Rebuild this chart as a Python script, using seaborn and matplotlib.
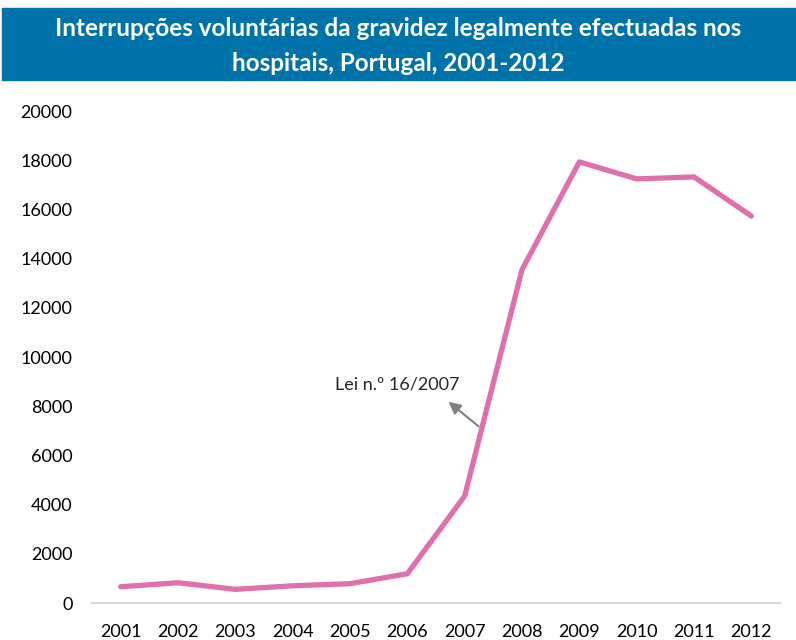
import numpy as np
import pandas as pd
import matplotlib
matplotlib.use("Agg")
import matplotlib.pyplot as plt
import seaborn as sns
from matplotlib.patches import Rectangle

# Data
years = [2001, 2002, 2003, 2004, 2005, 2006, 2007, 2008, 2009, 2010, 2011, 2012]
ivg = [660, 825, 555, 700, 785, 1190, 4350, 13550, 17930, 17240, 17320, 15730]
title = "Interrupções voluntárias da gravidez legalmente efectuadas nos\nhospitais, Portugal, 2001-2012"
note = "Lei n.º 16/2007"

df = pd.DataFrame({"ano": years, "ivg": ivg})

sns.set_theme(style="white")
plt.rcParams['font.family'] = ['Lato', 'DejaVu Sans']

fig = plt.figure(figsize=(7.96, 6.4), dpi=100)
ax = fig.add_axes([92 / 796, 1 - 603 / 640, 688 / 796, 492 / 640])

sns.lineplot(data=df, x="ano", y="ivg", ax=ax, color="#E070AC", linewidth=3.8)

ax.set_xlim(2000.5, 2012.5)
ax.set_ylim(0, 20000)
ax.set_xticks(years)
ax.set_yticks(range(0, 20001, 2000))
ax.tick_params(axis="both", labelsize=13, length=0, colors="black")
ax.tick_params(axis="x", pad=15)
ax.tick_params(axis="y", pad=14)
ax.set_xlabel("")
ax.set_ylabel("")
for s in ["top", "right", "left"]:
    ax.spines[s].set_visible(False)
ax.spines["bottom"].set_color("#D9D9D9")
ax.spines["bottom"].set_linewidth(1.5)

# arrow + label for the law
ax.annotate("", xy=(2006.68, 8250), xytext=(2007.28, 7110),
            arrowprops=dict(arrowstyle="-|>", color="#808080", lw=1.5,
                            mutation_scale=18))
ax.text(2005.83, 8900, note, fontsize=13, ha="center", va="center")

# title banner
fig.patches.append(Rectangle((2 / 796, 1 - 80 / 640), 794 / 796, 72 / 640,
                             transform=fig.transFigure, color="#0072AA", zorder=0))
fig.text(0.5, 1 - 46 / 640, title, ha="center", va="center", color="white",
         fontsize=17.5, fontweight="bold", linespacing=1.6)

fig.savefig("out.png", dpi=100)
